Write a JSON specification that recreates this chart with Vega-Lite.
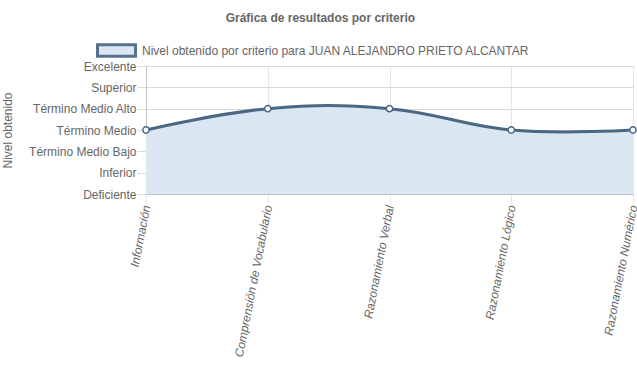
{
  "$schema": "https://vega.github.io/schema/vega-lite/v6.json",
  "width": 487,
  "height": 128,
  "autosize": {"type": "none"},
  "padding": {"left": 146, "top": 66, "right": 4, "bottom": 195},
  "title": {
    "text": "Gráfica de resultados por criterio",
    "frame": "bounds",
    "anchor": "middle",
    "font": "Liberation Sans",
    "fontSize": 12,
    "fontWeight": "bold",
    "color": "#666666",
    "offset": 5
  },
  "data": {
    "values": [
      {"criterio": "Información", "nivel": 3, "serie": "Nivel obtenido por criterio para JUAN ALEJANDRO PRIETO ALCANTAR"},
      {"criterio": "Comprensión de Vocabulario", "nivel": 4, "serie": "Nivel obtenido por criterio para JUAN ALEJANDRO PRIETO ALCANTAR"},
      {"criterio": "Razonamiento Verbal", "nivel": 4, "serie": "Nivel obtenido por criterio para JUAN ALEJANDRO PRIETO ALCANTAR"},
      {"criterio": "Razonamiento Lógico", "nivel": 3, "serie": "Nivel obtenido por criterio para JUAN ALEJANDRO PRIETO ALCANTAR"},
      {"criterio": "Razonamiento Numérico", "nivel": 3, "serie": "Nivel obtenido por criterio para JUAN ALEJANDRO PRIETO ALCANTAR"}
    ]
  },
  "encoding": {
    "x": {
      "field": "criterio",
      "type": "nominal",
      "sort": null,
      "scale": {"type": "point", "padding": 0},
      "axis": {
        "title": null,
        "labelAngle": -79,
        "labelFontStyle": "italic",
        "tickSize": 9,
        "labelPadding": 2,
        "grid": true,
        "gridColor": "#e6e6e6",
        "tickColor": "#e6e6e6",
        "domainColor": "#c4c4c4"
      }
    },
    "y": {
      "field": "nivel",
      "type": "quantitative",
      "scale": {"domain": [0, 6], "nice": false, "zero": true},
      "axis": {
        "title": "Nivel obtenido",
        "values": [0, 1, 2, 3, 4, 5, 6],
        "labelExpr": "['Deficiente','Inferior','Término Medio Bajo','Término Medio','Término Medio Alto','Superior','Excelente'][datum.value]",
        "tickSize": 9,
        "labelPadding": 1,
        "titlePadding": 14,
        "grid": true,
        "gridColor": "#d9d9d9",
        "tickColor": "#d9d9d9",
        "domainColor": "#c4c4c4"
      }
    }
  },
  "layer": [
    {
      "mark": {"type": "area", "interpolate": "cardinal", "tension": -0.2, "opacity": 1},
      "encoding": {
        "color": {
          "field": "serie",
          "type": "nominal",
          "scale": {"range": ["#dae6f2"]},
          "legend": {
            "orient": "none",
            "legendX": -50,
            "legendY": -36,
            "title": null,
            "symbolType": "M-1,-0.3H1V0.3H-1Z",
            "symbolSize": 1444,
            "symbolStrokeColor": "#56728f",
            "symbolStrokeWidth": 3,
            "symbolOpacity": 1,
            "labelFont": "Liberation Sans",
            "labelFontSize": 12,
            "labelColor": "#666666",
            "labelOffset": 5,
            "labelLimit": 0,
            "padding": 0
          }
        }
      }
    },
    {
      "mark": {"type": "line", "interpolate": "cardinal", "tension": -0.2, "color": "#4a6784", "strokeWidth": 3}
    },
    {
      "mark": {"type": "point", "filled": true, "fill": "#ffffff", "stroke": "#4a6784", "strokeWidth": 1.5, "size": 40, "opacity": 1}
    }
  ],
  "config": {
    "view": {"stroke": null},
    "font": "Liberation Sans",
    "axis": {
      "labelFont": "Liberation Sans",
      "labelFontSize": 12,
      "labelColor": "#666666",
      "titleFont": "Liberation Sans",
      "titleFontSize": 12,
      "titleColor": "#666666",
      "titleFontWeight": "normal"
    }
  }
}
